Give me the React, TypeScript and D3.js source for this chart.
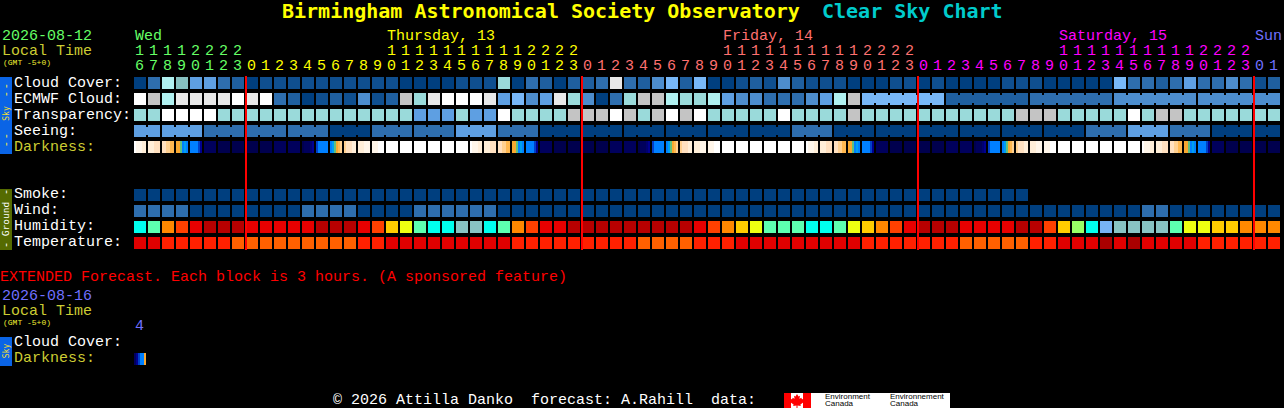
import React, { useEffect, useRef } from "react";
import * as d3 from "d3";

const monoFont = "'Liberation Mono', monospace";
const titleFont = "'DejaVu Sans Mono', monospace";

// one character per block, colours are looked up in the palettes below
const cloudCover = "03985532" + "0111111111100" + "00111703202" + "23b32462600121421110" + "001101000011100000" + "633235334312";
const ecmwfCloud = "da9bbbbdbd320121412a7" + "bdddb5645b74037aa9779544333459a" + "666666" + "222222" + "333333" + "444444" + "444444";
const transparency = "77dddd777777777777775" + "55755d7777aaada7adad77777d7777a" + "77777777777aaa77777d7aa7777777";
const seeing = "55555333333333000333333555333" + "000000000000000000" + "333" + "000000000000000000" + "333555333" + "00000";
const smoke = "0000000000000000000000000000000000000000000000000000000000000000";
const wind = "3333000000003333000033333300000000000000000000000000000000000000000000003300000000";
const humidity = "cmofrdddrrrrrdddrfylm" + "ccttcmofrrddddddddd" + "rfoylmmmccml" + "yofrdddrrrrddfygcbttttmllyyooo";
const temperature = "eefffffooooooooo" + "ffeeeeeeeee" + "fffffffff" + "oooo" + "fff" + "eeeeeeeee" + "fffffff" + "ooooo" + "ff" + "eee" + "aeaeeee" + "ffffff";

// blocks joined by a connector: seeing every 3 hours, ECMWF every 6 once it goes coarse
const seeingGroups = [2, 3, 3, 3, 3, 3, 3, 3, 3, 3, 3, 3, 3, 3, 3, 3, 3, 3, 3, 3, 3, 3, 3, 3, 3, 3, 3, 2];
const ecmwfGroups = [...new Array(52).fill(1), 6, 6, 6, 6, 6];

// darkness: six narrow strips in every block
const darkness = [
  "011122", "222333", "334455", "667989", "9999bc", "eeeeee", "ffffff", "ffffff",
  "ffffff", "ffffff", "eeeeee", "eeeeee", "feeedc", "b99999", "987654", "433322", "222111", "111000",
  "000000", "000000", "000000", "000000", "000000", "000000",
  "011122", "222333", "334455", "667989", "9999bc", "eeeeee", "ffffff", "ffffff",
  "ffffff", "ffffff", "eeeeee", "eeeeee", "feeedc", "b99999", "987654", "433322", "222111", "111000",
  "000000", "000000", "000000", "000000", "000000", "000000",
  "011122", "222333", "334455", "667989", "9999bc", "eeeeee", "ffffff", "ffffff",
  "ffffff", "ffffff", "eeeeee", "eeeeee", "feeedc", "b99999", "987654", "433322", "222111", "111000",
  "000000", "000000", "000000", "000000", "000000", "000000",
  "011122", "222333", "334455", "667989", "9999bc", "eeeeee", "ffffff", "ffffff",
  "ffffff", "ffffff",
];
const extendedDarkness = ["ecb996"];

const skyCodes = "0123456789abd".split("");
const skyColors = ["#003f7f", "#0f4f8f", "#1f5f9f", "#2e6eae", "#4d8dcd", "#5e9fe2", "#78b8f8", "#9adada", "#86c0c0", "#b0f0f0", "#c4c4c4", "#e8e8e8", "#ffffff"];
const humidityCodes = "cmofrdylgbt".split("");
const humidityColors = ["#00ffee", "#5dffb0", "#ff8800", "#ff4000", "#e80000", "#b80000", "#ffcc00", "#eeff11", "#99ff66", "#77b3f5", "#88c4c4"];
const temperatureCodes = "efoa".split("");
const temperatureColors = ["#e00000", "#ff2000", "#ff6000", "#aa0000"];
const darkCodes = "0123456789bcdef".split("");
const darkColors = ["#ffffff", "#fff6ea", "#ffeed8", "#ffe0c0", "#ffd090", "#ffb850", "#f8a830", "#60c080", "#00a0f0", "#0080ff", "#0040c8", "#000090", "#000070", "#00005c", "#00004e"];

const tensLabels = "11112222" + "          11111111112222".repeat(3) + "  ";
const unitLabels = "67890123" + "012345678901234567890123".repeat(3) + "01";
const dayStarts = [0, 8, 32, 56, 80];
const dayColors = ["#66ff66", "#ffff00", "#ff7070", "#ff00ff", "#7070ff"];
const dayNames = ["Wed", "Thursday, 13", "Friday, 14", "Saturday, 15", "Sun"];
const dayNameBlocks = [0, 18, 42, 66, 80];
const dayLines = [8, 32, 56, 80];

const skyRows = ["Cloud Cover:", "ECMWF Cloud:", "Transparency:", "Seeing:", "Darkness:"];
const groundRows = ["Smoke:", "Wind:", "Humidity:", "Temperature:"];

export default function App() {
  const svgRef = useRef<any>();

  useEffect(() => {
    const svg = d3.select(svgRef.current);
    svg.selectAll("*").remove();

    const x = d3.scaleLinear().domain([0, 82]).range([134, 1282]);
    const skyY = d3.scalePoint<string>().domain(skyRows).range([77, 141]);
    const groundY = d3.scalePoint<string>().domain(groundRows).range([189, 237]);
    const blockW = 12;
    const stripX = d3.scaleLinear().domain([0, 6]).range([0, blockW]);

    const skyColor = d3.scaleOrdinal<string, string>().domain(skyCodes).range(skyColors);
    const humidityColor = d3.scaleOrdinal<string, string>().domain(humidityCodes).range(humidityColors);
    const temperatureColor = d3.scaleOrdinal<string, string>().domain(temperatureCodes).range(temperatureColors);
    const darkColor = d3.scaleOrdinal<string, string>().domain(darkCodes).range(darkColors);

    const text = (str: string, tx: number, ty: number, fill: string, size = 15, weight = "normal", family = monoFont) =>
      svg
        .append("text")
        .attr("x", tx)
        .attr("y", ty)
        .attr("fill", fill)
        .attr("font-family", family)
        .attr("font-size", size)
        .attr("font-weight", weight)
        .style("white-space", "pre")
        .text(str);

    const drawRow = (values: string, y: number, color: (c: string) => string, groups?: number[]) => {
      const g = svg.append("g");
      g.selectAll("rect")
        .data(values.split(""))
        .join("rect")
        .attr("x", (_, i) => x(i))
        .attr("y", y)
        .attr("width", blockW)
        .attr("height", blockW)
        .attr("fill", (d) => color(d));
      if (!groups) return;
      // connectors between the blocks of one group, notched top and bottom
      let start = 0;
      groups.forEach((n) => {
        d3.range(start, start + n - 1).forEach((i) => {
          g.append("rect")
            .attr("x", x(i) + blockW)
            .attr("y", y + 2)
            .attr("width", x(1) - x(0) - blockW)
            .attr("height", blockW - 4)
            .attr("fill", color(values[i]));
        });
        start += n;
      });
    };

    const drawDarkness = (blocks: string[], y: number) => {
      const g = svg.append("g");
      blocks.forEach((strips, i) => {
        g.append("g")
          .selectAll("rect")
          .data(strips.split(""))
          .join("rect")
          .attr("x", (_, j) => x(i) + stripX(j))
          .attr("y", y)
          .attr("width", stripX(1) - stripX(0))
          .attr("height", blockW)
          .attr("fill", (d) => darkColor(d));
      });
    };

    // title
    text("Birmingham Astronomical Society Observatory", 282, 18, "#ffff00", 20, "bold", titleFont);
    text("Clear Sky Chart", 822, 18, "#00cccc", 20, "bold", titleFont);

    // date and hour header
    const dayColor = d3.scaleThreshold<number, string>().domain(dayStarts.slice(1)).range(dayColors);
    text("2026-08-12", 2, 40, "#66ff66");
    text("Local Time", 2, 55, "#cccc33");
    text("(GMT -5+0)", 3, 65, "#eeee33", 8);
    dayNames.forEach((d, i) => text(d, x(dayNameBlocks[i]) + 1, 40, dayColors[i]));
    d3.range(82).forEach((i) => {
      if (tensLabels[i] !== " ") text(tensLabels[i], x(i) + 5.5, 55, dayColor(i)).attr("text-anchor", "middle");
      text(unitLabels[i], x(i) + 5.5, 70, dayColor(i)).attr("text-anchor", "middle");
    });

    // side bars
    const sideBar = (y: number, h: number, fill: string) =>
      svg.append("rect").attr("x", 0).attr("y", y).attr("width", 12).attr("height", h).attr("fill", fill);
    const sideText = (str: string, cy: number, fill: string, size: number, spacing = 0) =>
      text(str, 9, cy, fill, size, "normal", titleFont)
        .attr("text-anchor", "middle")
        .attr("letter-spacing", spacing)
        .attr("transform", `rotate(-90 9 ${cy})`);

    sideBar(77, 77, "#0a64e6");
    sideText("- -", 91.5, "#ffee33", 11, -2.6);
    sideText("Sky", 113.5, "#eedd33", 8);
    sideText("- -", 141.5, "#ffee33", 11, -2.6);
    sideBar(189, 61, "#556b00");
    sideText("-", 192, "#ffffff", 11);
    sideText("Ground", 219, "#ffffff", 9.5);
    sideText("-", 245, "#ffffff", 11);
    sideBar(337, 29, "#0a64e6");
    sideText("Sky", 351, "#eedd33", 8);

    // row labels
    skyRows.forEach((r) => text(r, 14, (skyY(r) as number) + 10, r === "Darkness:" ? "#cccc33" : "#ffffff"));
    groundRows.forEach((r) => text(r, 14, (groundY(r) as number) + 9, "#ffffff"));

    // forecast blocks
    drawRow(cloudCover, skyY("Cloud Cover:") as number, skyColor);
    drawRow(ecmwfCloud, skyY("ECMWF Cloud:") as number, skyColor, ecmwfGroups);
    drawRow(transparency, skyY("Transparency:") as number, skyColor);
    drawRow(seeing, skyY("Seeing:") as number, skyColor, seeingGroups);
    drawDarkness(darkness, skyY("Darkness:") as number);
    drawRow(smoke, groundY("Smoke:") as number, skyColor);
    drawRow(wind, groundY("Wind:") as number, skyColor);
    drawRow(humidity, groundY("Humidity:") as number, humidityColor);
    drawRow(temperature, groundY("Temperature:") as number, temperatureColor);

    // midnight lines
    svg
      .append("g")
      .selectAll("rect")
      .data(dayLines)
      .join("rect")
      .attr("x", (d) => x(d) - 1)
      .attr("y", 76)
      .attr("width", 2)
      .attr("height", 174)
      .attr("fill", "#ff0000");

    // extended forecast
    text("EXTENDED Forecast. Each block is 3 hours. (A sponsored feature)", 0, 281, "#ff0000");
    text("2026-08-16", 2, 300, "#7070ff");
    text("Local Time", 2, 315, "#cccc33");
    text("(GMT -5+0)", 3, 325, "#eeee33", 8);
    text("4", x(0) + 5.5, 330, "#7070ff").attr("text-anchor", "middle");
    text("Cloud Cover:", 14, 346, "#ffffff");
    text("Darkness:", 14, 362, "#cccc33");
    drawDarkness(extendedDarkness, 353);

    // footer
    text("\u00a9 2026 Attilla Danko  forecast: A.Rahill  data:", 333, 403.5, "#ffffff");

    const logo = svg.append("g");
    logo.append("rect").attr("x", 784).attr("y", 393).attr("width", 166).attr("height", 15).attr("fill", "#ffffff");
    logo.append("rect").attr("x", 784).attr("y", 393).attr("width", 7).attr("height", 15).attr("fill", "#ff0000");
    logo.append("rect").attr("x", 803).attr("y", 393).attr("width", 8).attr("height", 15).attr("fill", "#ff0000");
    logo
      .append("path")
      .attr("fill", "#ff0000")
      .attr("d", "M797 394 l1.5 2.5 1.5-.8 -.6 3 2-1 .5 1.5 2-.3 -1 2.4 1 .7 -3.5 2.6 .4 1.4 -3.3-.4 v2.4 h-1 v-2.4 l-3.3 .4 .4-1.4 -3.5-2.6 1-.7 -1-2.4 2 .3 .5-1.5 2 1 -.6-3 1.5 .8z");
    const logoText = (str: string, tx: number, ty: number) =>
      logo.append("text").attr("x", tx).attr("y", ty).attr("fill", "#000000").attr("font-family", "'Liberation Sans', sans-serif").attr("font-size", 8).text(str);
    logoText("Environment", 825, 399);
    logoText("Canada", 825, 406);
    logoText("Environnement", 890, 399);
    logoText("Canada", 890, 406);
  }, []);

  return (
    <svg
      ref={svgRef}
      width={1284}
      height={408}
      viewBox="0 0 1284 408"
      style={{ position: "fixed", left: 0, top: 0, background: "#000000", display: "block" }}
    ></svg>
  );
}
